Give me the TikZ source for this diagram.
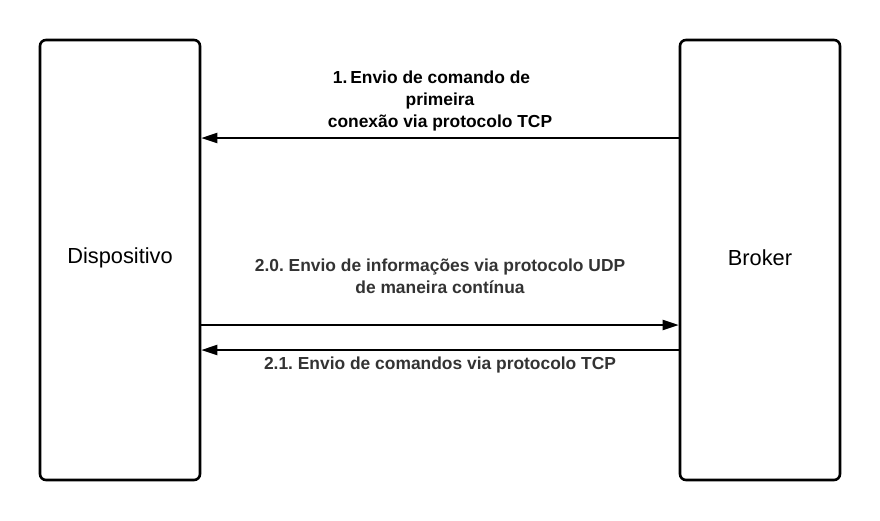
\documentclass[tikz,border=0pt]{standalone}
\usepackage{fontspec}
\setmainfont{Liberation Sans}
\usetikzlibrary{arrows.meta}
\frenchspacing
\begin{document}
\begin{tikzpicture}[x=1pt,y=-1pt,
  actor/.style={draw=black,line width=2.6pt,rounded corners=6pt,minimum width=160pt,minimum height=440pt,inner sep=0pt},
  actortext/.style={font=\fontsize{21.8}{25}\selectfont},
  msg/.style={line width=2pt,-{Triangle[length=16pt,width=10pt]}},
  lbl/.style={align=center,font=\bfseries\fontsize{17.4}{22}\selectfont,inner sep=0pt}]
\useasboundingbox (0,0) rectangle (880,520);
\node[actor] (dev) at (120,260) {};
\node[actor] (brk) at (760,260) {};
\node[actortext] (devt) at (120,258) {Dispositivo};
\node[actortext] (brkt) at (760,258) {Broker};
\coordinate (y1) at (0,138);
\coordinate (y2) at (0,325);
\coordinate (y3) at (0,350);
\draw[msg] (brk.west |- y1) -- (dev.east |- y1);
\draw[msg] (dev.east |- y2) -- (brk.west |- y2);
\draw[msg] (brk.west |- y3) -- (dev.east |- y3);
\node[lbl,text=black] (l1) at (440,101) {1.\,Envio de comando de\hspace*{17pt}\\primeira\\conexão via protocolo TCP};
\node[lbl,text=black!80] (l2) at (440,276) {2.0. Envio de informações via protocolo UDP\\de maneira contínua};
\node[lbl,text=black!80] (l3) at (440,365) {2.1. Envio de comandos via protocolo TCP};
\end{tikzpicture}
\end{document}
